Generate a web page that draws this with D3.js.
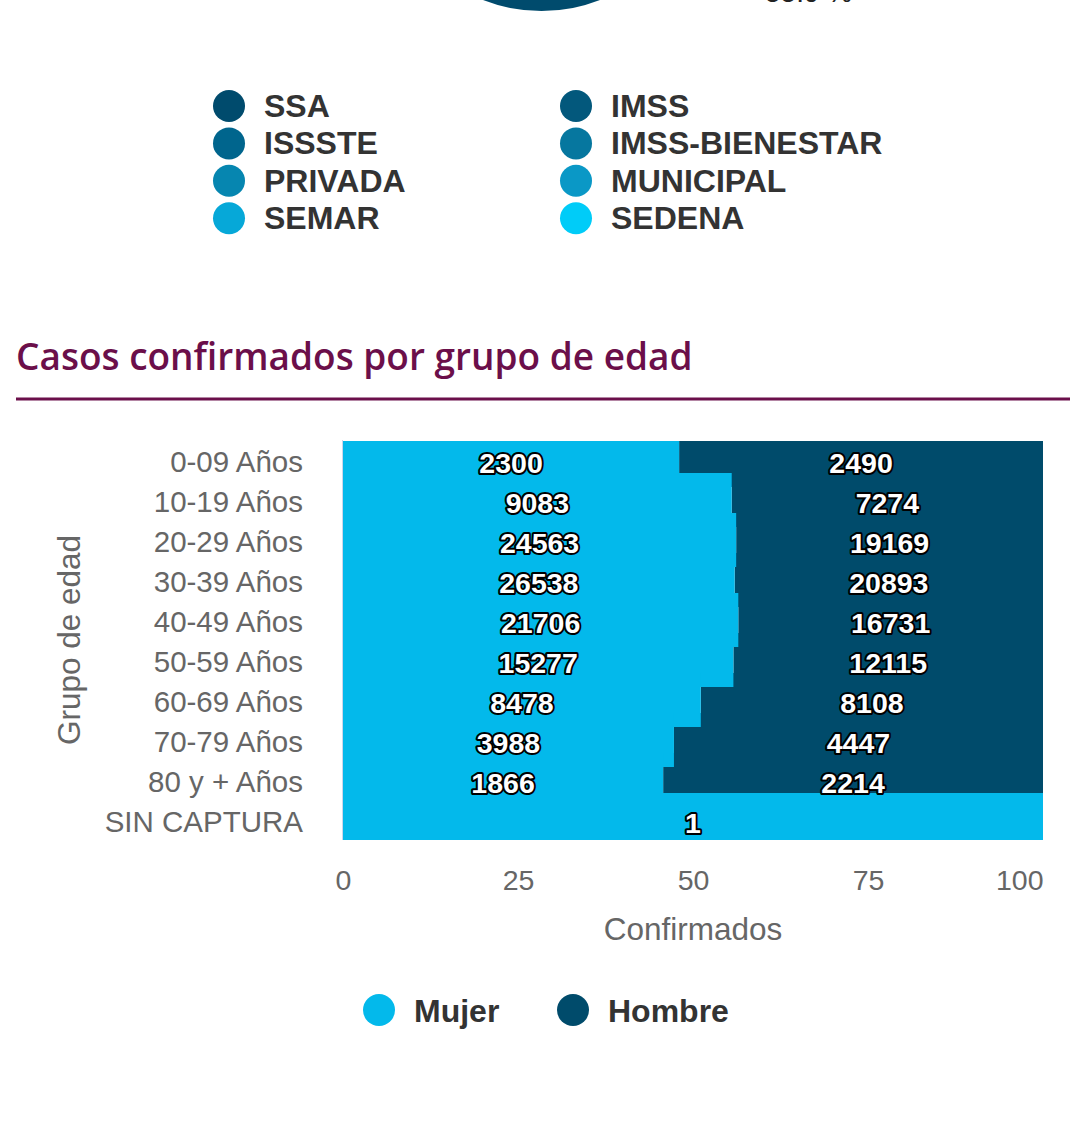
<!DOCTYPE html>
<html>
<head>
<meta charset="utf-8">
<script src="https://cdn.jsdelivr.net/npm/d3@7"></script>
<style>
  body { margin: 0; background: #fff; }
  svg { display: block; font-family: "Liberation Sans", Arial, sans-serif; }
</style>
</head>
<body>
<svg id="chart" width="1091" height="1125"></svg>
<script>
// institutions legend (from the chart above, only its bottom is visible)
const institutions = ['SSA', 'IMSS', 'ISSSTE', 'IMSS-BIENESTAR', 'PRIVADA', 'MUNICIPAL', 'SEMAR', 'SEDENA'];
const instColors = ['#004b6d', '#03587c', '#00658d', '#06779f', '#0686b0', '#0a98c6', '#06a8d8', '#00ccf8'];

// age groups
const ageGroups = ['0-09 Años', '10-19 Años', '20-29 Años', '30-39 Años', '40-49 Años',
  '50-59 Años', '60-69 Años', '70-79 Años', '80 y + Años', 'SIN CAPTURA'];
const mujer = [2300, 9083, 24563, 26538, 21706, 15277, 8478, 3988, 1866, 1];
const hombre = [2490, 7274, 19169, 20893, 16731, 12115, 8108, 4447, 2214, 0];
const xTicks = [0, 25, 50, 75, 100];

const seriesNames = ['Mujer', 'Hombre'];
const seriesColors = ['#03b9eb', '#004b6b'];

const svg = d3.select('#chart');
const maroon = '#6b0f4a';

// partial pie peeking in at the top
svg.append('path')
  .attr('transform', 'translate(541.5,-150)')
  .attr('d', d3.arc().innerRadius(0).outerRadius(161)({ startAngle: 0, endAngle: 2 * Math.PI }))
  .attr('fill', instColors[0]);
svg.append('text')
  .attr('x', 765).attr('y', 2)
  .attr('font-size', 28).attr('fill', '#222')
  .text('55.9 %');

// institutions legend
const instLegend = svg.append('g')
  .selectAll('g')
  .data(institutions)
  .join('g')
  .attr('transform', (d, i) => `translate(${i % 2 === 0 ? 229 : 576},${106 + Math.floor(i / 2) * 37.4})`);
instLegend.append('circle').attr('r', 16).attr('fill', (d, i) => instColors[i]);
instLegend.append('text')
  .attr('x', 35).attr('y', 11)
  .attr('font-size', 32).attr('font-weight', 'bold').attr('fill', '#333')
  .text((d) => d);

// section title
svg.append('text')
  .attr('x', 16).attr('y', 370)
  .attr('font-family', '"Open Sans", sans-serif')
  .attr('font-weight', 600).attr('font-size', 37)
  .attr('fill', maroon)
  .text('Casos confirmados por grupo de edad');
svg.append('line')
  .attr('x1', 16).attr('x2', 1070).attr('y1', 399).attr('y2', 399)
  .attr('stroke', maroon).attr('stroke-width', 3);

// bar chart
const margin = { left: 343, right: 1043, top: 440, bottom: 840 };
const x = d3.scaleLinear().domain([0, 100]).range([margin.left, margin.right]);
const y = d3.scaleBand().domain(ageGroups).range([margin.top, margin.bottom]).padding(0);
const barH = 54;

const rows = ageGroups.map((label, i) => {
  const total = mujer[i] + hombre[i];
  const pm = total ? (mujer[i] / total) * 100 : 0;
  return { label, m: mujer[i], h: hombre[i], pm };
});

svg.append('clipPath').attr('id', 'plot-clip')
  .append('rect')
  .attr('x', margin.left).attr('y', margin.top + 1)
  .attr('width', margin.right - margin.left).attr('height', margin.bottom - margin.top - 1);

const plot = svg.append('g').attr('clip-path', 'url(#plot-clip)');
const cy = (d) => y(d.label) + y.bandwidth() / 2;

// Hombre series first, Mujer drawn over it
plot.append('g')
  .selectAll('rect')
  .data(rows.filter((d) => d.h > 0))
  .join('rect')
  .attr('x', (d) => x(d.pm))
  .attr('y', (d) => cy(d) - barH / 2)
  .attr('width', (d) => x(100) - x(d.pm))
  .attr('height', barH)
  .attr('fill', seriesColors[1]);
plot.append('g')
  .selectAll('rect')
  .data(rows)
  .join('rect')
  .attr('x', x(0))
  .attr('y', (d) => cy(d) - barH / 2)
  .attr('width', (d) => x(d.pm) - x(0))
  .attr('height', barH)
  .attr('fill', seriesColors[0]);

// axis line on the left
svg.append('line')
  .attr('x1', margin.left - 0.5).attr('x2', margin.left - 0.5)
  .attr('y1', margin.top).attr('y2', margin.bottom)
  .attr('stroke', '#ccd6eb').attr('stroke-width', 1);

// data labels
const labels = [];
rows.forEach((d) => {
  if (d.m > 0) labels.push({ v: d.m, xc: (0 + d.pm) / 2, row: d });
  if (d.h > 0) labels.push({ v: d.h, xc: (d.pm + 100) / 2, row: d });
});
svg.append('g')
  .selectAll('text')
  .data(labels)
  .join('text')
  .attr('x', (d) => x(d.xc))
  .attr('y', (d) => cy(d.row) + 13)
  .attr('text-anchor', 'middle')
  .attr('font-size', 28.5).attr('font-weight', 'bold')
  .attr('fill', '#fff').attr('stroke', '#000').attr('stroke-width', 4)
  .attr('stroke-linejoin', 'round').attr('paint-order', 'stroke')
  .text((d) => d.v);

// axes
const yAxis = svg.append('g')
  .attr('transform', `translate(${margin.left},0)`)
  .call(d3.axisLeft(y).tickSize(0).tickPadding(40));
yAxis.select('.domain').remove();
yAxis.selectAll('text')
  .attr('font-size', 29.5).attr('fill', '#666')
  .attr('font-family', '"Liberation Sans", Arial, sans-serif')
  .attr('dy', '0.36em').attr('y', 1.5);

const xAxis = svg.append('g')
  .attr('transform', `translate(0,${margin.bottom})`)
  .call(d3.axisBottom(x).tickValues(xTicks).tickSize(0).tickPadding(30));
xAxis.select('.domain').remove();
xAxis.selectAll('text')
  .attr('font-size', 28.5).attr('fill', '#666')
  .attr('font-family', '"Liberation Sans", Arial, sans-serif');
xAxis.selectAll('.tick').filter((d) => d === 100).select('text').attr('text-anchor', 'end');

svg.append('text')
  .attr('x', x(50)).attr('y', 940)
  .attr('text-anchor', 'middle')
  .attr('font-size', 31.5).attr('fill', '#666')
  .text('Confirmados');
svg.append('text')
  .attr('transform', 'translate(80,640) rotate(-90)')
  .attr('text-anchor', 'middle')
  .attr('font-size', 31.5).attr('fill', '#666')
  .text('Grupo de edad');

// series legend
const legendX = [379, 573];
const sLegend = svg.append('g')
  .selectAll('g')
  .data(seriesNames)
  .join('g')
  .attr('transform', (d, i) => `translate(${legendX[i]},1010)`);
sLegend.append('circle').attr('r', 16).attr('fill', (d, i) => seriesColors[i]);
sLegend.append('text')
  .attr('x', 35).attr('y', 11.5)
  .attr('font-size', 32).attr('font-weight', 'bold').attr('fill', '#333')
  .text((d) => d);
</script>
</body>
</html>
